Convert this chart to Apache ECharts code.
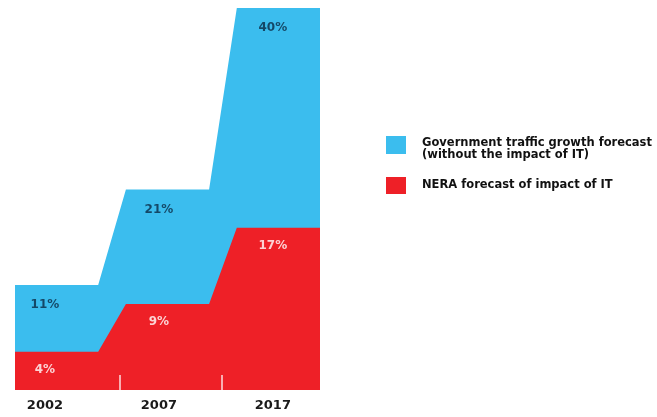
<!DOCTYPE html>
<html>
<head>
<meta charset="utf-8">
<script src="https://cdn.jsdelivr.net/npm/echarts@6/dist/echarts.min.js"></script>
<style>
html,body{margin:0;padding:0;background:#fff;}
#chart{width:657px;height:417px;}
</style>
</head>
<body>
<div id="chart"></div>
<script>
// ---- data ----
var years = ['2002', '2007', '2017'];
var govtForecast = [11, 21, 40];   // Government traffic growth forecast (total)
var neraImpact = [4, 9, 17];       // NERA forecast of impact of IT
var seriesNames = ['Government traffic growth forecast\n(without the impact of IT)', 'NERA forecast of impact of IT'];

// ---- layout helpers (in x-axis units) ----
var SLANT = 1 / 3;           // width of the rising step between periods
var LABEL_START = 0.36;      // first label position
var LABEL_STEP = 1.37;       // spacing of labels
function segStart(i) { return i * (1 + SLANT); }
function stepPoints(vals) {
  var pts = [];
  vals.forEach(function (v, i) {
    pts.push([segStart(i), v]);
    pts.push([segStart(i) + 1, v]);
  });
  return pts;
}
function labelX(i) { return +(LABEL_START + LABEL_STEP * i).toFixed(4); }
function labelPoints(vals) {
  return vals.map(function (v, i) { return [labelX(i), v]; });
}
var xMax = segStart(years.length - 1) + 1;
var yearLabelPos = years.map(function (y, i) { return labelX(i); });
var tickPos = [1.26, 2.49];

var BLUE = '#3bbdee';
var RED = '#ee2027';
var FONT = '"DejaVu Sans", Verdana, sans-serif';

var chart = echarts.init(document.getElementById('chart'));
chart.setOption({
  animation: false,
  backgroundColor: '#ffffff',
  grid: { left: 15, right: 337, top: 8, bottom: 27, containLabel: false },
  xAxis: {
    type: 'value', min: 0, max: xMax, z: 10,
    splitLine: { show: false },
    axisLine: { show: false },
    axisTick: {
      show: true, inside: true, length: 15,
      customValues: tickPos,
      lineStyle: { color: 'rgba(255,255,255,0.85)', width: 1.5 }
    },
    axisLabel: {
      show: true, margin: 9,
      customValues: yearLabelPos,
      formatter: function (val) {
        for (var i = 0; i < yearLabelPos.length; i++) {
          if (Math.abs(yearLabelPos[i] - val) < 1e-3) return years[i];
        }
        return '';
      },
      color: '#1a1a1a', fontWeight: 'bold', fontSize: 13, fontFamily: FONT
    }
  },
  yAxis: {
    type: 'value', min: 0, max: 40, show: false, splitLine: { show: false }
  },
  legend: [
    {
      orient: 'vertical', left: 386, top: 136, padding: 0,
      data: [seriesNames[0]],
      // square drawn in the upper part of a taller icon box, so the text sits slightly lower
      icon: 'path://M0,0L20,0L20,18L0,18Z M0,25.9L0.01,25.9L0.01,26L0,26Z',
      itemWidth: 20, itemHeight: 26,
      textStyle: {
        color: '#111', fontWeight: 'bold', fontSize: 11.5, lineHeight: 12.5,
        fontFamily: FONT, padding: [0, 0, 0, 11]
      }
    },
    {
      orient: 'vertical', left: 386, top: 177, padding: 0,
      data: [seriesNames[1]],
      icon: 'rect', itemWidth: 20, itemHeight: 17,
      textStyle: {
        color: '#111', fontWeight: 'bold', fontSize: 11.5, lineHeight: 12,
        fontFamily: FONT, padding: [0, 0, 0, 11]
      }
    }
  ],
  series: [
    {
      name: seriesNames[0], type: 'line', data: stepPoints(govtForecast),
      symbol: 'none', lineStyle: { width: 0 }, itemStyle: { color: BLUE },
      areaStyle: { color: BLUE, opacity: 1 }, z: 1, silent: true
    },
    {
      name: seriesNames[1], type: 'line', data: stepPoints(neraImpact),
      symbol: 'none', lineStyle: { width: 0 }, itemStyle: { color: RED },
      areaStyle: { color: RED, opacity: 1 }, z: 2, silent: true
    },
    {
      name: 'govtLabels', type: 'scatter', data: labelPoints(govtForecast),
      symbolSize: 0, z: 5, silent: true,
      label: {
        show: true, position: 'bottom', distance: 14,
        formatter: function (p) { return p.value[1] + '%'; },
        color: '#0b2a45', fontWeight: 'bold', fontSize: 12, fontFamily: FONT
      }
    },
    {
      name: 'neraLabels', type: 'scatter', data: labelPoints(neraImpact),
      symbolSize: 0, z: 5, silent: true,
      label: {
        show: true, position: 'bottom', distance: 12,
        formatter: function (p) { return p.value[1] + '%'; },
        color: '#ffffff', fontWeight: 'bold', fontSize: 12, fontFamily: FONT
      }
    }
  ]
});
</script>
</body>
</html>
